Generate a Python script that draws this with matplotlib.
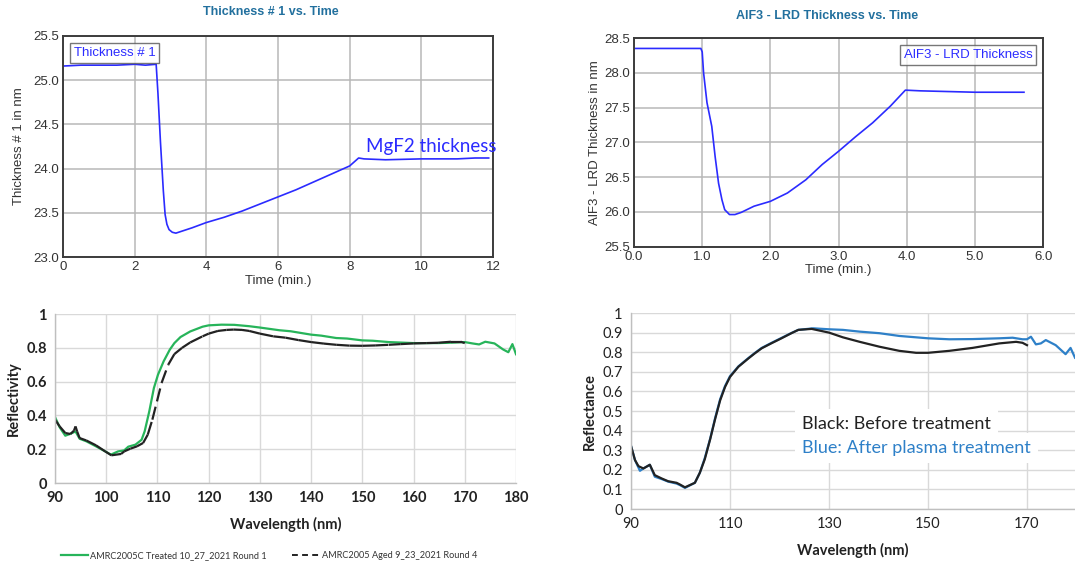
import matplotlib
matplotlib.use("Agg")
import matplotlib.pyplot as plt
from matplotlib.collections import LineCollection
from matplotlib.lines import Line2D
import numpy as np

# --- Thickness # 1 vs. Time (MgF2) ---
t_mgf2 = [0, 0.5, 1.0, 1.5, 2.0, 2.3, 2.6, 2.65, 2.72, 2.8, 2.85, 2.9, 2.96, 3.05, 3.15,
          3.3, 3.6, 4.0, 4.5, 5.0, 5.5, 6.0, 6.5, 7.0, 7.5, 8.0, 8.25, 8.4, 9.0, 10.0,
          11.0, 11.5, 11.88]
thk_mgf2 = [25.16, 25.17, 25.17, 25.17, 25.18, 25.17, 25.18, 24.85, 24.3, 23.75, 23.48,
            23.37, 23.31, 23.28, 23.27, 23.29, 23.33, 23.39, 23.45, 23.52, 23.6, 23.68,
            23.76, 23.85, 23.94, 24.03, 24.12, 24.11, 24.1, 24.11, 24.11, 24.12, 24.12]

# --- AlF3 - LRD Thickness vs. Time ---
t_alf3 = [0, 0.3, 0.6, 0.9, 0.98, 1.0, 1.02, 1.07, 1.14, 1.19, 1.24, 1.29, 1.33, 1.4,
          1.48, 1.57, 1.76, 2.0, 2.25, 2.52, 2.76, 3.0, 3.25, 3.5, 3.76, 3.98, 4.2, 4.6,
          5.0, 5.4, 5.72]
thk_alf3 = [28.35, 28.35, 28.35, 28.35, 28.35, 28.3, 28.0, 27.57, 27.23, 26.79, 26.41,
            26.17, 26.03, 25.96, 25.96, 25.99, 26.08, 26.15, 26.27, 26.46, 26.68, 26.87,
            27.08, 27.28, 27.52, 27.75, 27.74, 27.73, 27.72, 27.72, 27.72]

# --- Reflectivity, treated (green) vs aged (black dashed) ---
wl_treated = [90, 90.9, 92, 92.9, 94, 94.8, 96.1, 98, 99.8, 100.9, 102.3, 103.5, 104.3,
              105.7, 106.9, 107.5, 108.4, 109.3, 110.1, 111.2, 112.4, 113.3, 114.5, 116.4,
              118.8, 120, 122.5, 125, 127.9, 130, 133.8, 136, 140, 142, 144.9, 147, 150,
              152, 155.2, 160, 164.8, 167, 170, 171.5, 172.8, 174, 175.8, 177.5, 178.5,
              179.3, 180]
refl_treated = [0.39, 0.33, 0.28, 0.29, 0.305, 0.262, 0.247, 0.217, 0.187, 0.168, 0.187,
                0.193, 0.215, 0.227, 0.256, 0.306, 0.424, 0.562, 0.641, 0.72, 0.789, 0.828,
                0.864, 0.897, 0.925, 0.933, 0.937, 0.936, 0.928, 0.92, 0.904, 0.898, 0.878,
                0.872, 0.858, 0.855, 0.844, 0.842, 0.834, 0.828, 0.828, 0.83, 0.834, 0.826,
                0.82, 0.836, 0.826, 0.79, 0.774, 0.822, 0.762]

wl_aged = [90, 90.9, 92, 93, 93.7, 94, 94.3, 94.8, 96.1, 98, 99.8, 101, 102.9, 103.5,
           104.7, 106, 107.2, 108.1, 109, 109.9, 110.8, 112.1, 113.3, 114.8, 116.4, 118.8,
           120, 121.8, 123.5, 124.9, 126.5, 127.9, 130, 132.6, 135, 137.5, 140, 142.5,
           144.9, 147.5, 150, 152.5, 155.2, 157.5, 160, 162.5, 164.8, 167.3, 169.2, 170]
refl_aged = [0.375, 0.335, 0.296, 0.29, 0.31, 0.335, 0.306, 0.266, 0.252, 0.223, 0.187,
             0.164, 0.172, 0.187, 0.203, 0.217, 0.237, 0.286, 0.375, 0.483, 0.592, 0.7,
             0.763, 0.8, 0.832, 0.868, 0.884, 0.9, 0.906, 0.908, 0.906, 0.9, 0.884, 0.868,
             0.86, 0.846, 0.834, 0.825, 0.818, 0.813, 0.812, 0.814, 0.818, 0.822, 0.826,
             0.828, 0.83, 0.836, 0.836, 0.828]

# --- Reflectance, before (black) / after plasma (blue) ---
wl_after = [90, 90.8, 91.8, 92.5, 93.8, 94.8, 96.2, 97.5, 99.2, 99.9, 100.9, 102.9, 103.9,
            104.9, 106, 107, 108, 109, 110, 111.7, 113.7, 115, 116.4, 118.4, 120.4, 122.4,
            123.8, 126.8, 130, 132.8, 136.2, 140.2, 144.2, 150, 154.3, 159, 164.4, 167.1,
            169.1, 170, 170.8, 171.8, 172.8, 173.8, 175.8, 177.8, 178.8, 179.7]
refl_after = [0.322, 0.25, 0.195, 0.207, 0.226, 0.165, 0.153, 0.14, 0.13, 0.122, 0.108,
              0.134, 0.185, 0.26, 0.36, 0.465, 0.56, 0.628, 0.678, 0.728, 0.77, 0.796,
              0.822, 0.848, 0.873, 0.898, 0.914, 0.922, 0.917, 0.914, 0.905, 0.897, 0.883,
              0.871, 0.866, 0.867, 0.871, 0.874, 0.866, 0.866, 0.879, 0.84, 0.845, 0.862,
              0.836, 0.79, 0.822, 0.772]

wl_before = [90, 90.8, 91.5, 92.5, 93.8, 94.8, 96.2, 97.5, 99.2, 99.9, 100.9, 102.9, 103.9,
             104.9, 106, 107, 108, 109, 110, 111.7, 113.7, 115, 116.4, 118.4, 120.4, 122.4,
             123.8, 126.5, 130, 132.8, 136.2, 140.2, 144.2, 147.6, 150, 154.3, 159, 164.4,
             167.8, 169.1, 170]
refl_before = [0.322, 0.25, 0.219, 0.207, 0.226, 0.173, 0.156, 0.142, 0.134, 0.125, 0.111,
               0.134, 0.185, 0.254, 0.357, 0.46, 0.554, 0.623, 0.674, 0.726, 0.768, 0.794,
               0.82, 0.846, 0.871, 0.897, 0.914, 0.919, 0.9, 0.876, 0.853, 0.828, 0.807,
               0.797, 0.797, 0.807, 0.822, 0.845, 0.853, 0.848, 0.836]

ARIAL = "Liberation Sans"
CALIBRI = "Lato"
TITLE_C = "#22709e"
LINE_BLUE = "#2b2bff"
GREEN = "#27b45a"
XL_BLUE = "#2e80c8"
GRID_XL = "#d9d9d9"

fig = plt.figure(figsize=(10.75, 5.65), dpi=100)


def style_top(ax):
    for s in ax.spines.values():
        s.set_color("#3c3c3c")
        s.set_linewidth(1.4)
    ax.grid(True, color="#b8b8b8", linewidth=1.1)
    ax.set_axisbelow(True)
    ax.tick_params(length=0, pad=3, labelsize=9.5, labelcolor="#333333")
    for lab in ax.get_xticklabels() + ax.get_yticklabels():
        lab.set_fontfamily(ARIAL)


# top-left
ax1 = fig.add_axes([0.0586, 0.5451, 0.400, 0.3912])
ax1.plot(t_mgf2, thk_mgf2, color=LINE_BLUE, lw=1.2, label="Thickness # 1")
ax1.set_xlim(0, 12)
ax1.set_ylim(23.0, 25.5)
ax1.set_xticks(range(0, 13, 2))
ax1.set_yticks(np.arange(23.0, 25.51, 0.5))
ax1.yaxis.set_major_formatter(matplotlib.ticker.FormatStrFormatter("%.1f"))
style_top(ax1)
ax1.set_xlabel("Time (min.)", fontsize=9.5, family=ARIAL, color="#333333", labelpad=1)
ax1.set_ylabel("Thickness # 1 in nm", fontsize=9.5, family=ARIAL, color="#333333", labelpad=6)
leg = ax1.legend(loc="upper left", handlelength=0, handletextpad=0, fancybox=False,
                 edgecolor="#555555", labelcolor=LINE_BLUE, borderaxespad=0.5,
                 prop={"family": ARIAL, "size": 9.5}, borderpad=0.3)
leg.get_frame().set_linewidth(1.0)
for h in leg.legend_handles:
    h.set_visible(False)
ax1.text(8.45, 24.25, "MgF2 thickness", color=LINE_BLUE, fontsize=13.5, family=CALIBRI,
         va="center", ha="left")
fig.text(0.252, 0.978, "Thickness # 1 vs. Time", ha="center", va="center", fontsize=9,
         fontweight="bold", family=ARIAL, color=TITLE_C)

# top-right
ax2 = fig.add_axes([0.5898, 0.5637, 0.3805, 0.369])
ax2.plot(t_alf3, thk_alf3, color=LINE_BLUE, lw=1.2, label="AlF3 - LRD Thickness")
ax2.set_xlim(0, 6)
ax2.set_ylim(25.5, 28.5)
ax2.set_xticks(np.arange(0, 6.01, 1.0))
ax2.set_yticks(np.arange(25.5, 28.51, 0.5))
ax2.xaxis.set_major_formatter(matplotlib.ticker.FormatStrFormatter("%.1f"))
ax2.yaxis.set_major_formatter(matplotlib.ticker.FormatStrFormatter("%.1f"))
style_top(ax2)
ax2.set_xlabel("Time (min.)", fontsize=9.5, family=ARIAL, color="#333333", labelpad=1)
ax2.set_ylabel("AlF3 - LRD Thickness in nm", fontsize=9.5, family=ARIAL, color="#333333",
               labelpad=2)
leg2 = ax2.legend(loc="upper right", handlelength=0, handletextpad=0, fancybox=False,
                  edgecolor="#555555", labelcolor=LINE_BLUE, borderaxespad=0.5,
                  prop={"family": ARIAL, "size": 9.5}, borderpad=0.3)
leg2.get_frame().set_linewidth(1.0)
for h in leg2.legend_handles:
    h.set_visible(False)
fig.text(0.769, 0.971, "AlF3 - LRD Thickness vs. Time", ha="center", va="center",
         fontsize=9, fontweight="bold", family=ARIAL, color=TITLE_C)


def style_excel(ax, bold_ticks):
    for side in ("top", "right"):
        ax.spines[side].set_visible(False)
    for side in ("left", "bottom"):
        ax.spines[side].set_color("#bfbfbf")
        ax.spines[side].set_linewidth(1.0)
    ax.grid(True, color=GRID_XL, linewidth=1.0)
    ax.set_axisbelow(True)
    ax.tick_params(length=0, pad=6, labelsize=10.5, labelcolor="#222222")
    for lab in ax.get_xticklabels() + ax.get_yticklabels():
        lab.set_fontfamily(CALIBRI)
        if bold_ticks:
            lab.set_fontweight("bold")


# bottom-left
ax3 = fig.add_axes([0.0512, 0.1451, 0.4288, 0.2991])
ax3.plot(wl_treated, refl_treated, color=GREEN, lw=1.6)
segs = [[(wl_aged[i], refl_aged[i]), (wl_aged[i + 1], refl_aged[i + 1])]
        for i in range(len(wl_aged) - 1)]
ax3.add_collection(LineCollection(segs, colors="#222222", linewidths=1.6,
                                  linestyles=[(0, (6, 2.5))], capstyle="butt"))
ax3.set_xlim(90, 180)
ax3.set_ylim(0, 1)
ax3.set_xticks(range(90, 181, 10))
ax3.set_yticks([0, 0.2, 0.4, 0.6, 0.8, 1])
ax3.set_yticklabels(["0", "0.2", "0.4", "0.6", "0.8", "1"])
style_excel(ax3, True)
ax3.set_xlabel("Wavelength (nm)", fontsize=10.5, fontweight="bold", family=CALIBRI,
               color="#222222", labelpad=8)
ax3.set_ylabel("Reflectivity", fontsize=10.5, fontweight="bold", family=CALIBRI,
               color="#222222", labelpad=4)
handles = [Line2D([], [], color=GREEN, lw=1.6),
           Line2D([], [], color="#222222", lw=1.4, dashes=(3, 2.2))]
fig.legend(handles, ["AMRC2005C Treated 10_27_2021 Round 1",
                     "AMRC2005 Aged 9_23_2021 Round 4"],
           loc="center", bbox_to_anchor=(0.25, 0.016), ncol=2, frameon=False,
           prop={"family": CALIBRI, "size": 6.6}, handlelength=3.0, handletextpad=0.2,
           columnspacing=2.8, labelcolor="#333333")

# bottom-right
ax4 = fig.add_axes([0.587, 0.099, 0.413, 0.347])
ax4.plot(wl_after, refl_after, color=XL_BLUE, lw=1.6)
ax4.plot(wl_before, refl_before, color="#222222", lw=1.6)
ax4.set_xlim(90, 179.7)
ax4.set_ylim(0, 1)
ax4.set_xticks(range(90, 171, 20))
ax4.set_yticks(np.arange(0, 1.01, 0.1))
ax4.set_yticklabels(["0"] + ["%.1f" % v for v in np.arange(0.1, 0.95, 0.1)] + ["1"])
style_excel(ax4, False)
ax4.set_xlabel("Wavelength (nm)", fontsize=10.5, fontweight="bold", family=CALIBRI,
               color="#222222", labelpad=8)
ax4.set_ylabel("Reflectance", fontsize=10.5, fontweight="bold", family=CALIBRI,
               color="#222222", labelpad=4)
ax4.text(0.385, 0.434, "Black: Before treatment", transform=ax4.transAxes, fontsize=13,
         family=CALIBRI, color="#222222", va="center", ha="left",
         bbox=dict(facecolor="white", edgecolor="none", pad=5))
ax4.text(0.385, 0.311, "Blue: After plasma treatment", transform=ax4.transAxes, fontsize=13,
         family=CALIBRI, color=XL_BLUE, va="center", ha="left",
         bbox=dict(facecolor="white", edgecolor="none", pad=5))

fig.savefig("out.png", dpi=100)
